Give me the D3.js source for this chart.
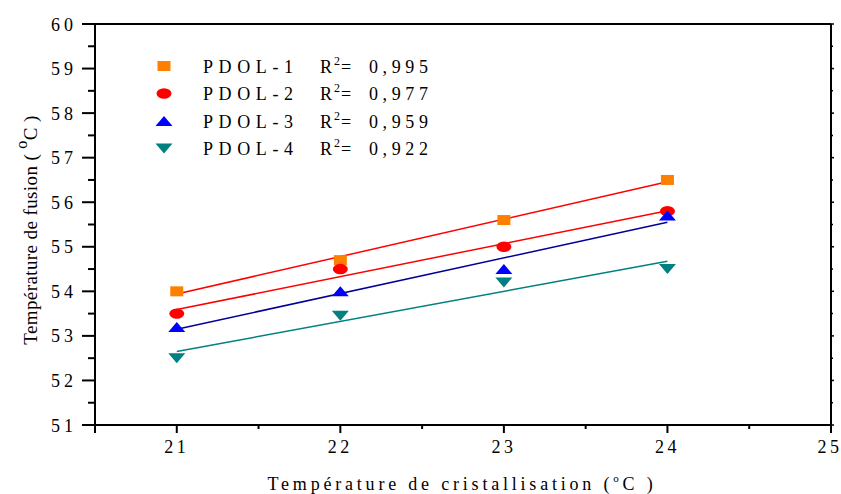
<!DOCTYPE html>
<html>
<head>
<meta charset="utf-8">
<script src="https://cdn.jsdelivr.net/npm/d3@7/dist/d3.min.js"></script>
<style>
  html, body { margin: 0; padding: 0; background: #fff; }
  svg { display: block; }
  text { font-family: "Liberation Serif", "Times New Roman", serif; fill: #000; }
</style>
</head>
<body>
<svg id="chart" width="841" height="494"></svg>
<script>
// Crystallisation temperature (°C)
const crystTemps = [21, 22, 23, 24];

// Melting temperature (°C) of each sample
const pdol1 = [54.0, 54.7, 55.6, 56.5];
const pdol2 = [53.5, 54.5, 55.0, 55.8];
const pdol3 = [53.2, 54.0, 54.5, 55.7];
const pdol4 = [52.5, 53.45, 54.2, 54.5];

const seriesNames = ["PDOL-1", "PDOL-2", "PDOL-3", "PDOL-4"];
const r2Labels = ["0,995", "0,977", "0,959", "0,922"];

const xTicks = [21, 22, 23, 24, 25];
const yTicks = [51, 52, 53, 54, 55, 56, 57, 58, 59, 60];

const series = [
  { name: seriesNames[0], r2: r2Labels[0], values: pdol1, shape: "square", fill: "#FF8000", line: "#FF0000" },
  { name: seriesNames[1], r2: r2Labels[1], values: pdol2, shape: "circle", fill: "#FF0000", line: "#FF0000" },
  { name: seriesNames[2], r2: r2Labels[2], values: pdol3, shape: "up", fill: "#0000FF", line: "#000099" },
  { name: seriesNames[3], r2: r2Labels[3], values: pdol4, shape: "down", fill: "#008080", line: "#008080" }
];

const svg = d3.select("#chart");
const plotLeft = 95, plotRight = 831, plotTop = 24, plotBottom = 425;

const x = d3.scaleLinear().domain([20.5, 25]).range([plotLeft, plotRight]);
const y = d3.scaleLinear().domain([51, 60]).range([plotBottom, plotTop]);

// least-squares fit of a series against crystallisation temperature
function fit(xs, ys) {
  const mx = d3.mean(xs), my = d3.mean(ys);
  const sxy = d3.sum(xs, (v, i) => (v - mx) * (ys[i] - my));
  const sxx = d3.sum(xs, v => (v - mx) * (v - mx));
  const b = sxy / sxx;
  return { a: my - b * mx, b };
}

// marker shapes (drawn slightly wider than tall)
function marker(g, shape, cx, cy, color) {
  if (shape === "square") {
    g.append("rect").attr("x", cx - 6.5).attr("y", cy - 5).attr("width", 13).attr("height", 10).attr("fill", color);
  } else if (shape === "circle") {
    g.append("ellipse").attr("cx", cx).attr("cy", cy).attr("rx", 7.5).attr("ry", 5.2).attr("fill", color);
  } else if (shape === "up") {
    g.append("path").attr("d", `M${cx - 8.5},${cy + 5}L${cx + 8.5},${cy + 5}L${cx},${cy - 5}Z`).attr("fill", color);
  } else {
    g.append("path").attr("d", `M${cx - 8.5},${cy - 5}L${cx + 8.5},${cy - 5}L${cx},${cy + 5}Z`).attr("fill", color);
  }
}

// frame: top and right
svg.append("line").attr("x1", 82).attr("x2", plotRight).attr("y1", plotTop).attr("y2", plotTop)
  .attr("stroke", "#000").attr("stroke-width", 2);
svg.append("line").attr("x1", plotRight).attr("x2", plotRight).attr("y1", plotTop).attr("y2", plotBottom)
  .attr("stroke", "#000").attr("stroke-width", 2);

// left axis
const yAxis = svg.append("g").attr("transform", `translate(${plotLeft},0)`);
yAxis.append("line").attr("x1", 0).attr("x2", 0).attr("y1", plotTop - 1).attr("y2", plotBottom + 8)
  .attr("stroke", "#000").attr("stroke-width", 2);
d3.range(51, 60.01, 0.5).forEach(v => {
  const major = Math.abs(v - Math.round(v)) < 1e-6;
  yAxis.append("line").attr("x1", major ? -13 : -7).attr("x2", 0)
    .attr("y1", y(v)).attr("y2", y(v)).attr("stroke", "#000").attr("stroke-width", 2);
  // small outward ticks on the right frame
  svg.append("line").attr("x1", plotRight).attr("x2", plotRight + (major ? 3 : 2))
    .attr("y1", y(v)).attr("y2", y(v)).attr("stroke", "#000").attr("stroke-width", 1.5);
});
yAxis.selectAll("text.tick").data(yTicks).join("text")
  .attr("class", "tick")
  .attr("x", -22 + 4).attr("y", d => y(d) + 6.5)
  .attr("text-anchor", "end")
  .style("font-size", "18px").style("letter-spacing", "4px")
  .text(d => d);

// bottom axis
const xAxis = svg.append("g").attr("transform", `translate(0,${plotBottom})`);
xAxis.append("line").attr("x1", plotLeft - 1).attr("x2", plotRight + 1).attr("y1", 0).attr("y2", 0)
  .attr("stroke", "#000").attr("stroke-width", 2);
d3.range(20.5, 25.01, 0.5).forEach(v => {
  const major = Math.abs(v - Math.round(v)) < 1e-6;
  xAxis.append("line").attr("x1", x(v)).attr("x2", x(v)).attr("y1", 0).attr("y2", major ? 8 : 4)
    .attr("stroke", "#000").attr("stroke-width", 2);
});
xAxis.selectAll("text.tick").data(xTicks).join("text")
  .attr("class", "tick")
  .attr("x", d => x(d) + (d === 25 ? -1 : 0)).attr("y", 28)
  .attr("text-anchor", "middle")
  .style("font-size", "18px").style("letter-spacing", "3.5px")
  .text(d => d);

// x-axis title
const xt = svg.append("text").attr("x", 462).attr("y", 490).attr("text-anchor", "middle")
  .style("font-size", "18px").style("letter-spacing", "3.8px");
xt.append("tspan").text("Température de cristallisation (");
xt.append("tspan").attr("dy", -8).style("font-size", "11px").text("o");
xt.append("tspan").attr("dy", 8).text("C )");

// y-axis title
const yt = svg.append("text").attr("transform", "translate(37,230) rotate(-90)").attr("text-anchor", "middle")
  .style("font-size", "19px").style("letter-spacing", "0.4px");
yt.append("tspan").text("Température de fusion ( ");
yt.append("tspan").attr("dy", -10).style("font-size", "16px").text("o");
yt.append("tspan").attr("dy", 10).text("C )");

// regression lines
const plot = svg.append("g");
series.forEach(s => {
  const f = fit(crystTemps, s.values);
  const x0 = d3.min(crystTemps), x1 = d3.max(crystTemps);
  plot.append("line")
    .attr("x1", x(x0)).attr("y1", y(f.a + f.b * x0))
    .attr("x2", x(x1)).attr("y2", y(f.a + f.b * x1))
    .attr("stroke", s.line).attr("stroke-width", 1.5);
});

// data points
series.forEach(s => {
  s.values.forEach((v, i) => marker(plot, s.shape, x(crystTemps[i]), y(v), s.fill));
});

// legend
const legend = svg.append("g");
series.forEach((s, i) => {
  const cy = 66 + i * 27.5;
  marker(legend, s.shape, 164, cy, s.fill);
  legend.append("text").attr("x", 203).attr("y", cy + 6.5)
    .style("font-size", "18px").style("letter-spacing", "5.6px")
    .text(s.name);
  const r = legend.append("text").attr("x", 320).attr("y", cy + 6.5).style("font-size", "18px");
  r.append("tspan").text("R");
  r.append("tspan").attr("x", 334).attr("dy", -8).style("font-size", "12px").text("2");
  r.append("tspan").attr("x", 341).attr("dy", 8).text("=");
  r.append("tspan").attr("x", 369).style("letter-spacing", "4.6px").text(s.r2);
});
</script>
</body>
</html>
